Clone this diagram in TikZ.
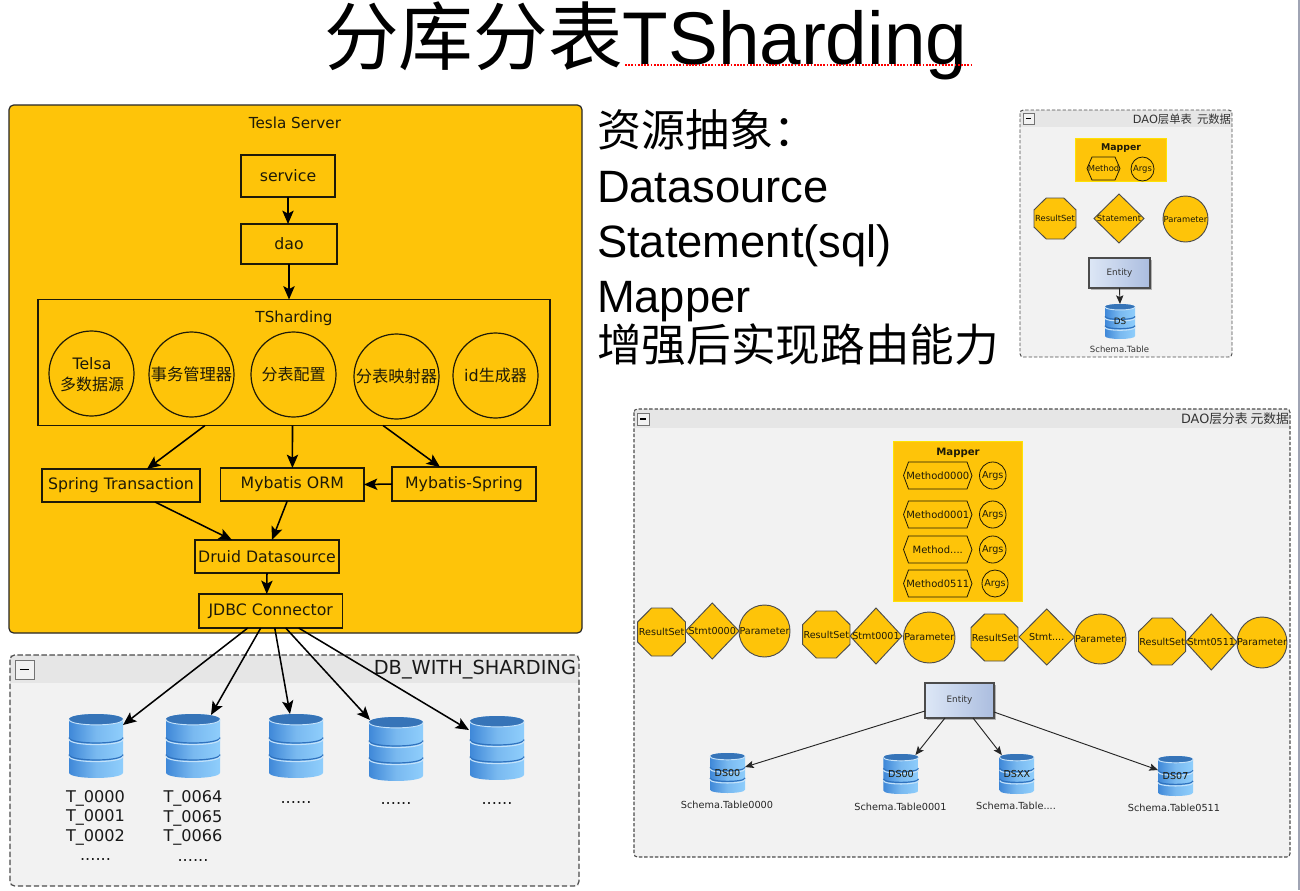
\documentclass[tikz,border=0pt]{standalone}
\usepackage{fontspec}
\setmainfont{DejaVu Sans}
\newfontfamily\cjk{Noto Sans CJK SC}
\newfontfamily\hel{Liberation Sans}
\usetikzlibrary{arrows.meta}
\definecolor{gold}{HTML}{FEC409}
\definecolor{panelbg}{HTML}{F2F2F2}
\definecolor{panelhd}{HTML}{E6E6E6}
\definecolor{ink}{HTML}{1E1A08}
\definecolor{edgebar}{HTML}{A0A4B4}
\definecolor{blue0}{HTML}{2F72BE}
\definecolor{blue1}{HTML}{3F88D8}
\definecolor{blue2}{HTML}{79B9F0}
\definecolor{blue3}{HTML}{8FCEFC}
\definecolor{blueL}{HTML}{C4E2FA}
\definecolor{entL}{HTML}{DDE7F6}
\definecolor{entR}{HTML}{ABBDDF}
\tikzset{
  tx/.style={inner sep=0pt,outer sep=0pt,align=center},
  boxn/.style={draw=ink,line width=1pt,inner sep=0pt,outer sep=0pt,font=\fontsize{11.8}{14}\selectfont,text=ink},
  arr/.style={draw=black,line width=1.15pt,-{Stealth[length=10pt,width=8.5pt,inset=2.2pt]}},
  arrs/.style={draw=black!85,line width=.7pt,-{Stealth[length=6.5pt,width=5.5pt,inset=1.3pt]}},
  panel/.style={draw=black!70,dash pattern=on 4pt off 2pt,line width=.9pt},
  shp/.style={draw=black!70,fill=gold,line width=.7pt},
  lab/.style={tx,font=\fontsize{7.2}{9}\selectfont,text=ink},
  labs/.style={tx,font=\fontsize{6.3}{8}\selectfont,text=ink},
  big/.style={tx,font=\fontsize{34}{40}\selectfont\hel,text=black,anchor=base west},
}
% rectangular node given by its corners
\newcommand\bx[6]{%
  \pgfmathsetmacro\cxx{(#2+#4)/2}\pgfmathsetmacro\cyy{(#3+#5)/2}%
  \pgfmathsetmacro\wdd{(#4-#2)*.75}\pgfmathsetmacro\htt{(#5-#3)*.75}%
  \node[boxn,minimum width=\wdd pt,minimum height=\htt pt] (#1) at (\cxx,\cyy) {#6};}
% circle/ellipse outline with free text
\newcommand\ello[7]{%
  \pgfmathsetmacro\cxx{(#2+#4)/2}\pgfmathsetmacro\cyy{(#3+#5)/2}%
  \pgfmathsetmacro\rxx{(#4-#2)/2}\pgfmathsetmacro\ryy{(#5-#3)/2}%
  \draw[#7] (\cxx,\cyy) ellipse [x radius=\rxx,y radius=\ryy];
  \node[tx,text=ink] (#1) at (\cxx,\cyy) {#6};}
\newcommand\octa[7]{%
  \pgfmathsetmacro\cxx{(#2+#4)/2}\pgfmathsetmacro\cyy{(#3+#5)/2}%
  \pgfmathsetmacro\dxx{(#4-#2)*.29}\pgfmathsetmacro\dyy{(#5-#3)*.29}%
  \draw[shp] (#2+\dxx,#3) -- (#4-\dxx,#3) -- (#4,#3+\dyy) -- (#4,#5-\dyy) -- (#4-\dxx,#5) -- (#2+\dxx,#5) -- (#2,#5-\dyy) -- (#2,#3+\dyy) -- cycle;
  \node[#7] (#1) at (\cxx,\cyy) {#6};}
\newcommand\dia[7]{%
  \pgfmathsetmacro\cxx{(#2+#4)/2}\pgfmathsetmacro\cyy{(#3+#5)/2}%
  \draw[shp] (\cxx,#3) -- (#4,\cyy) -- (\cxx,#5) -- (#2,\cyy) -- cycle;
  \node[#7] (#1) at (\cxx,\cyy) {#6};}
\newcommand\hexa[7]{%
  \pgfmathsetmacro\cxx{(#2+#4)/2}\pgfmathsetmacro\cyy{(#3+#5)/2}%
  \draw[draw=ink,line width=.6pt] (#2+5,#3) -- (#4-5,#3) -- (#4,\cyy) -- (#4-5,#5) -- (#2+5,#5) -- (#2,\cyy) -- cycle;
  \node[#7] (#1) at (\cxx,\cyy) {#6};}
% database cylinder
\newcommand\dbc[7]{%
  \pgfmathsetmacro\cxx{(#2+#4)/2}\pgfmathsetmacro\cyy{(#3+#5)/2}%
  \pgfmathsetmacro\wdd{(#4-#2)*.75}\pgfmathsetmacro\htt{(#5-#3)*.75}%
  \pgfmathsetmacro\ee{(#5-#3)*.085}\pgfmathsetmacro\cc{\ee*1.33}%
  \pgfmathsetmacro\sa{#3+\ee+(#5-#3-2*\ee)*.36}\pgfmathsetmacro\sb{#3+\ee+(#5-#3-2*\ee)*.68}%
  \shade[left color=blue1,right color=blue3,middle color=blue2]
    (#2,#3+\ee) .. controls (#2,#3+\ee-\cc) and (#4,#3+\ee-\cc) .. (#4,#3+\ee)
    -- (#4,#5-\ee) .. controls (#4,#5-\ee+\cc) and (#2,#5-\ee+\cc) .. (#2,#5-\ee) -- cycle;
  \foreach \sy in {\sa,\sb}{
    \draw[draw=blue0,line width=.9pt] (#2,\sy-1) .. controls (#2,\sy-1+\cc) and (#4,\sy-1+\cc) .. (#4,\sy-1);
    \draw[draw=blueL,line width=.8pt] (#2,\sy+.6) .. controls (#2,\sy+.6+\cc) and (#4,\sy+.6+\cc) .. (#4,\sy+.6);}
  \fill[blue1!85!black] (#2,#3+\ee) .. controls (#2,#3+\ee-\cc) and (#4,#3+\ee-\cc) .. (#4,#3+\ee) .. controls (#4,#3+\ee+\cc) and (#2,#3+\ee+\cc) .. (#2,#3+\ee) -- cycle;
  \draw[draw=blueL,line width=.7pt] (#2,#3+\ee) .. controls (#2,#3+\ee+\cc) and (#4,#3+\ee+\cc) .. (#4,#3+\ee);
  \node[tx,minimum width=\wdd pt,minimum height=\htt pt,#7] (#1) at (\cxx,\cyy) {#6};}
% collapse control
\newcommand\minusb[4]{%
  \pgfmathsetmacro\cyy{(#2+#4)/2}%
  \draw[draw=black!55,fill=panelbg,line width=.7pt] (#1,#2) rectangle (#3,#4);
  \draw[black,line width=1.2pt] (#1+.25*#3-.25*#1,\cyy) -- (#3-.25*#3+.25*#1,\cyy);}
\newcommand\entity[6]{%
  \pgfmathsetmacro\cxx{(#2+#4)/2}\pgfmathsetmacro\cyy{(#3+#5)/2}%
  \pgfmathsetmacro\wdd{(#4-#2)*.75}\pgfmathsetmacro\htt{(#5-#3)*.75}%
  \fill[black!30] (#2+2,#3+2) rectangle (#4+2,#5+2);
  \node[draw=black!70,line width=.9pt,left color=entL,right color=entR,inner sep=0pt,outer sep=0pt,minimum width=\wdd pt,minimum height=\htt pt,font=\fontsize{6.6}{8}\selectfont,text=black!80] (#1) at (\cxx,\cyy) {#6};}
\begin{document}
\begin{tikzpicture}[x=.75pt,y=-.75pt]
\useasboundingbox (0,0) rectangle (1300,890);
\fill[white] (0,0) rectangle (1300,890);
\fill[edgebar] (1297.7,0) rectangle (1300,890);

% title
\node[tx,anchor=base west,font=\fontsize{56}{60}\selectfont\hel] (title) at (324,64) {{\cjk 分库分表}TSharding};
\draw[red,line width=1.3pt,dash pattern=on 1.4pt off 1pt] (625,65) -- (973,65);

% right-hand text
\node[tx,anchor=west,font=\fontsize{33}{40}\selectfont\cjk] (res) at (597,130) {资源抽象：};
\node[big] (ds) at (597,202) {Datasource};
\node[big] (st) at (597,257) {Statement(sql)};
\node[big] (mp) at (597,312) {Mapper};
\node[tx,anchor=west,font=\fontsize{33.5}{40}\selectfont\cjk] (enh) at (597,345) {增强后实现路由能力};

% Tesla Server panel
\draw[draw=black!85,fill=gold,line width=.9pt,rounded corners=3.5pt] (9,105) rectangle (582,633);
\node[tx,font=\fontsize{11.4}{14}\selectfont,text=ink] (tesla) at (295,123) {Tesla Server};
\bx{service}{241}{155}{335}{197}{service}
\bx{dao}{241}{224}{337}{264}{dao}
\bx{ts}{38}{299.5}{550}{425.5}{}
\node[tx,font=\fontsize{11.4}{14}\selectfont,text=ink] (tst) at (294,318) {TSharding};
\tikzset{c12/.style={draw=ink,line width=.9pt}}
\ello{c1}{49}{331}{134}{416}{}{c12}
\node[tx,text=ink,font=\fontsize{11.8}{14}\selectfont] (c1a) at (92,364) {Telsa};
\node[tx,text=ink,font=\fontsize{12}{14}\selectfont\cjk] (c1b) at (92,384) {多数据源};
\ello{c2}{149}{332}{234}{417}{\fontsize{12.2}{14}\selectfont\cjk 事务管理器}{c12}
\ello{c3}{251}{332}{336}{417}{\fontsize{12}{14}\selectfont\cjk 分表配置}{c12}
\ello{c4}{354}{334}{439}{419}{\fontsize{12.2}{14}\selectfont\cjk 分表映射器}{c12}
\ello{c5}{453}{333}{538}{418}{\fontsize{12}{14}\selectfont id{\cjk 生成器}}{c12}
\bx{spring}{42}{469}{200}{502}{Spring Transaction}
\bx{orm}{220.5}{468}{364}{501}{Mybatis ORM}
\bx{ms}{392}{467}{536}{501}{Mybatis-Spring}
\bx{druid}{195}{540}{339}{573}{Druid Datasource}
\bx{jdbc}{199}{594}{342.5}{628}{JDBC Connector}

% DB panel
\fill[panelbg] (10,655) rectangle (579,886);
\fill[panelhd] (10,655) rectangle (579,683);
\draw[panel,rounded corners=3.5pt] (10,655) rectangle (579,886);
\minusb{15}{660}{34}{679}
\node[tx,anchor=east,font=\fontsize{14.5}{17}\selectfont,text=black!90] (dbt) at (576,670) {DB\_WITH\_SHARDING};
\dbc{d1}{69}{714}{123}{778}{}{}
\dbc{d2}{166}{714}{220}{778}{}{}
\dbc{d3}{269}{714}{323}{778}{}{}
\dbc{d4}{369}{717}{423}{781}{}{}
\dbc{d5}{470}{716}{524}{780}{}{}
\tikzset{tt/.style={tx,anchor=base,font=\fontsize{12.1}{14}\selectfont,text=black!90}}
\node[tt] (t1) at (95.5,802) {T\_0000};
\node[tt] (t2) at (95.5,821.5) {T\_0001};
\node[tt] (t3) at (95.5,841) {T\_0002};
\node[tt] (t4) at (95.5,860) {......};
\node[tt] (u1) at (193,802.5) {T\_0064};
\node[tt] (u2) at (193,822) {T\_0065};
\node[tt] (u3) at (193,841.5) {T\_0066};
\node[tt] (u4) at (193,861) {......};
\node[tt] (v3) at (296,803) {......};
\node[tt] (v4) at (396,804.5) {......};
\node[tt] (v5) at (497,804) {......};

% connectors, left diagram
\draw[arr] (service.south) -- ([shift={(-1,0)}]dao.north);
\draw[arr] ([shift={(0,0)}]dao.south) -- ([shift={(-5,0)}]ts.north);
\draw[arr] ([shift={(-89,0)}]ts.south) -- ([shift={(26,0)}]spring.north);
\draw[arr] ([shift={(-1.5,0)}]ts.south) -- ([shift={(.2,0)}]orm.north);
\draw[arr] ([shift={(89,0)}]ts.south) -- ([shift={(-24,0)}]ms.north);
\draw[arr] (ms.west) -- (orm.east);
\draw[arr] ([shift={(34,0)}]spring.south) -- ([shift={(-35,0)}]druid.north);
\draw[arr] ([shift={(-5,0)}]orm.south) -- ([shift={(5,0)}]druid.north);
\draw[arr] (druid.south) -- ([shift={(-4,0)}]jdbc.north);
\draw[arr] ([shift={(-23,0)}]jdbc.south) -- ([shift={(27,-21)}]d1.center);
\draw[arr] ([shift={(-10,0)}]jdbc.south) -- ([shift={(18,-31)}]d2.center);
\draw[arr] ([shift={(4,0)}]jdbc.south) -- ([shift={(-6,-32)}]d3.center);
\draw[arr] ([shift={(15,0)}]jdbc.south) -- ([shift={(-26,-29)}]d4.center);
\draw[arr] ([shift={(28,0)}]jdbc.south) -- ([shift={(-28,-18)}]d5.center);

% small DAO panel
\fill[panelbg] (1020,110) rectangle (1232,357);
\fill[panelhd] (1020,110) rectangle (1232,127);
\draw[panel,dash pattern=on 2.6pt off 1.4pt,line width=.7pt,rounded corners=2.5pt] (1020,110) rectangle (1232,357);
\minusb{1023}{113}{1034}{124}
\node[tx,anchor=east,font=\fontsize{8.5}{10}\selectfont,text=black!80] (sdt) at (1231,119) {DAO{\cjk 层单表\ \ 元数据}};
\draw[fill=gold,draw=yellow!85!orange,line width=.6pt] (1075,138) rectangle (1166,181);
\node[tx,font=\fontsize{7}{8}\selectfont\bfseries,text=ink] (sm) at (1121,148) {Mapper};
\hexa{sh}{1087}{157}{1120}{180}{Method}{labs}
\ello{sa}{1131}{157}{1154}{181}{\fontsize{6.3}{8}\selectfont Args}{draw=ink,line width=.6pt}
\octa{so}{1034}{198}{1076}{239}{ResultSet}{labs}
\dia{sd}{1094}{194}{1144}{243}{Statement}{labs}
\ello{sp}{1163}{196}{1208}{242}{\fontsize{6.3}{8}\selectfont Parameter}{shp}
\entity{se}{1089}{258}{1150}{288}{Entity}
\dbc{sc}{1105}{304}{1135}{339}{DS}{font=\fontsize{6.6}{8}\selectfont,text=ink}
\node[tx,font=\fontsize{6.4}{8}\selectfont,text=black!80] (sl) at (1119.5,349) {Schema.Table};
\draw[arrs] (se.south) -- (sc.north);

% large DAO panel
\fill[panelbg] (634,409) rectangle (1290,857);
\fill[panelhd] (634,409) rectangle (1290,428);
\draw[panel,dash pattern=on 2.6pt off 1.4pt,line width=.8pt,rounded corners=2.5pt] (634,409) rectangle (1290,857);
\minusb{637}{413}{649}{425}
\node[tx,anchor=east,font=\fontsize{9.6}{11}\selectfont,text=black!80] (bdt) at (1289,419) {DAO{\cjk 层分表 元数据}};
\draw[fill=gold,draw=yellow!85!orange,line width=.6pt] (893,441) rectangle (1022,601);
\node[tx,font=\fontsize{7.6}{9}\selectfont\bfseries,text=ink] (bm) at (958,452.5) {Mapper};
\tikzset{labm/.style={tx,font=\fontsize{7.5}{9}\selectfont,text=ink},ar/.style={draw=ink,line width=.6pt}}
\hexa{h0}{903.5}{462}{972}{489}{Method0000}{labm}
\hexa{h1}{903.5}{501}{972}{528}{Method0001}{labm}
\hexa{h2}{903.5}{536}{972}{563}{Method....}{labm}
\hexa{h3}{903.5}{570}{972}{597}{Method0511}{labm}
\ello{a0}{979.5}{462}{1006}{489}{\fontsize{7.2}{9}\selectfont Args}{ar}
\ello{a1}{979.5}{501}{1006}{528}{\fontsize{7.2}{9}\selectfont Args}{ar}
\ello{a2}{979.5}{536}{1006}{563}{\fontsize{7.2}{9}\selectfont Args}{ar}
\ello{a3}{982}{570}{1008}{597}{\fontsize{7.2}{9}\selectfont Args}{ar}
\octa{o0}{637.7}{608}{685.5}{656}{ResultSet}{lab}
\dia{d0}{685.5}{603}{739}{659}{Stmt0000}{lab}
\ello{p0}{739}{605}{790}{657}{\fontsize{7.2}{9}\selectfont Parameter}{shp}
\octa{o1}{802.6}{611}{850}{658}{ResultSet}{lab}
\dia{dd1}{850}{608}{902}{664}{Stmt0001}{lab}
\ello{p1}{903.5}{612}{955}{663}{\fontsize{7.2}{9}\selectfont Parameter}{shp}
\octa{o2}{971}{614}{1018}{661}{ResultSet}{lab}
\dia{dd2}{1019}{609}{1074.4}{665}{Stmt....}{lab}
\ello{p2}{1074.4}{614}{1126}{664}{\fontsize{7.2}{9}\selectfont Parameter}{shp}
\octa{o3}{1138.5}{618}{1185.6}{665}{ResultSet}{lab}
\dia{dd3}{1185.6}{614}{1237}{670}{Stmt0511}{lab}
\ello{p3}{1237}{617}{1287}{668}{\fontsize{7.2}{9}\selectfont Parameter}{shp}
\entity{be}{925}{683}{994}{718}{Entity}
\tikzset{dsl/.style={font=\fontsize{7.2}{9}\selectfont,text=ink},sch/.style={tx,font=\fontsize{7.3}{9}\selectfont,text=black!85}}
\dbc{b0}{710}{753}{745}{793}{DS00}{dsl}
\dbc{b1}{883.4}{754}{918.5}{794}{DS00}{dsl}
\dbc{b2}{999.7}{754}{1034}{794}{DSXX}{dsl}
\dbc{b3}{1158}{756}{1193}{796}{DS07}{dsl}
\node[sch] (s0) at (727,805) {Schema.Table0000};
\node[sch] (s1) at (900.5,806.5) {Schema.Table0001};
\node[sch] (s2) at (1016,806) {Schema.Table....};
\node[sch] (s3) at (1174,808) {Schema.Table0511};
\draw[arrs] ([shift={(0,10.5)}]be.west) -- ([shift={(17.5,-6)}]b0.center);
\draw[arrs] ([shift={(-14.5,0)}]be.south) -- ([shift={(14.5,-19)}]b1.center);
\draw[arrs] ([shift={(13.5,0)}]be.south) -- ([shift={(-15,-19)}]b2.center);
\draw[arrs] ([shift={(0,11.5)}]be.east) -- ([shift={(-17.5,-6)}]b3.center);
\end{tikzpicture}
\end{document}
